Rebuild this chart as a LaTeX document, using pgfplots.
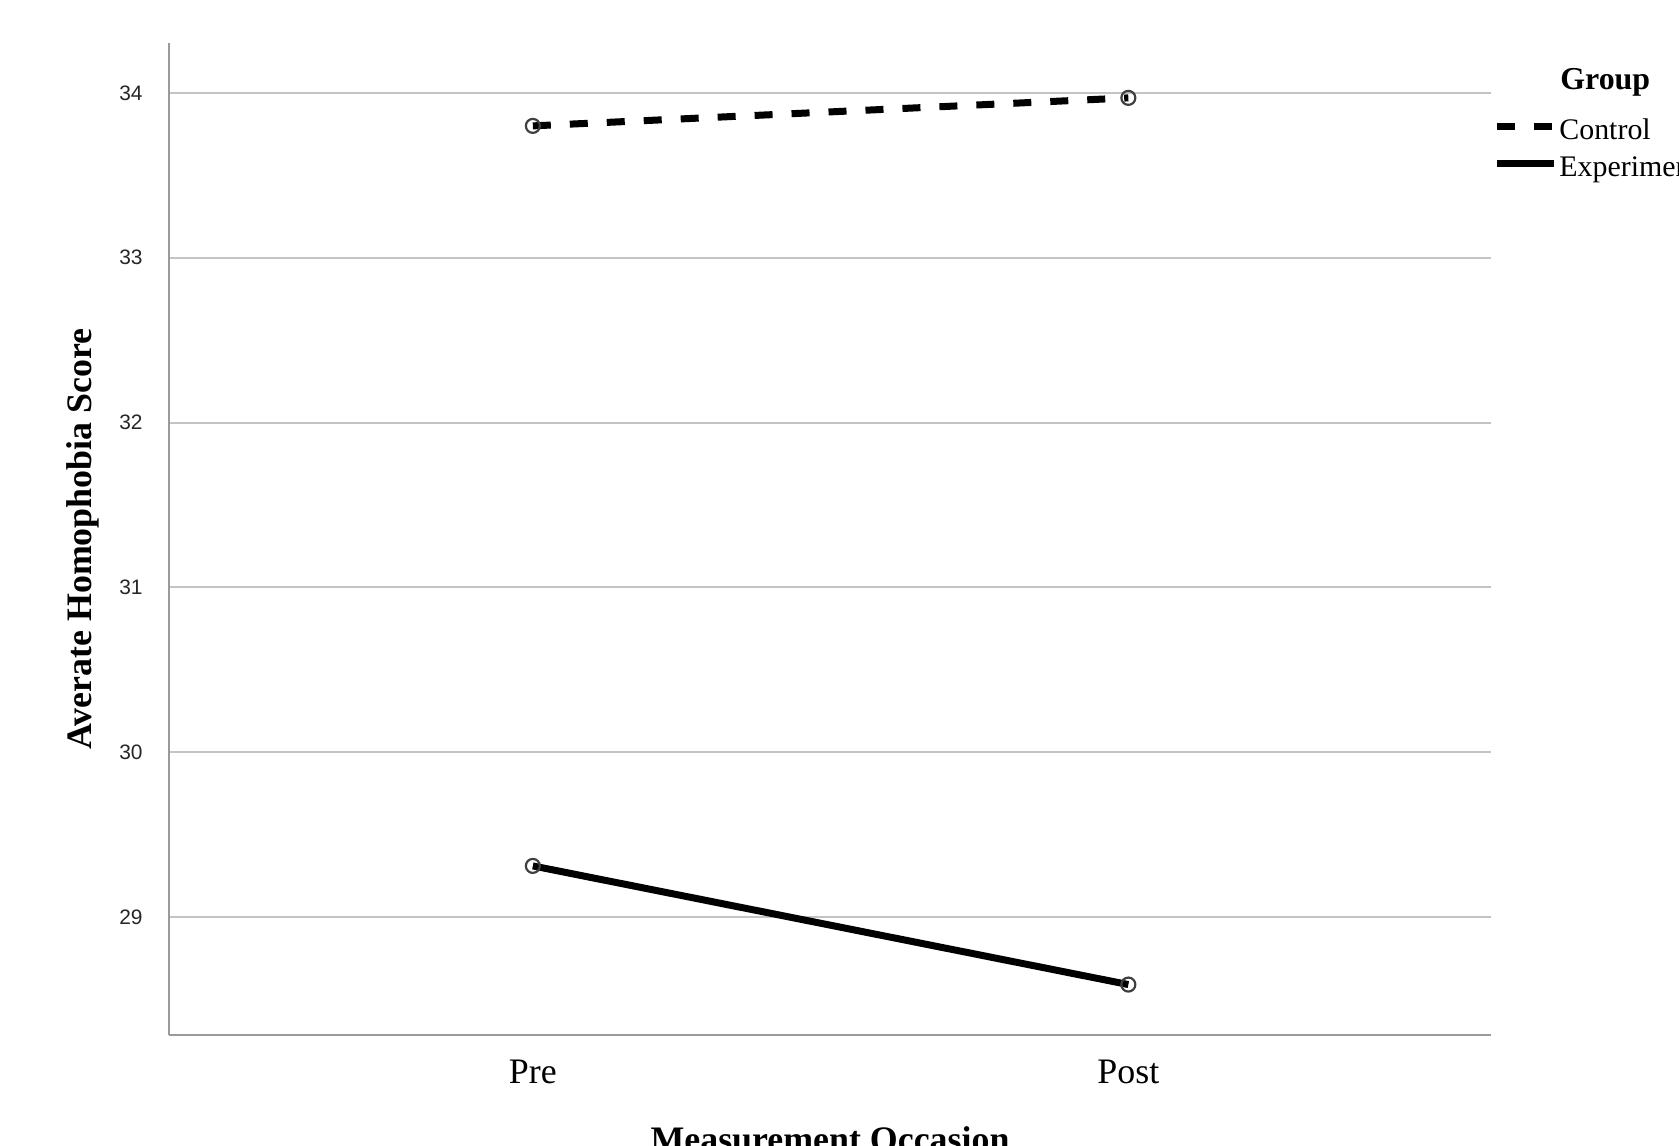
\documentclass[border=0pt]{standalone}
\usepackage{fontspec}
\setmainfont{Liberation Serif}
\newfontfamily\tickfont{Liberation Sans}
\usepackage{pgfplots}
\pgfplotsset{compat=1.18}
\definecolor{gridgray}{HTML}{C4C4C4}
\definecolor{axisgray}{HTML}{9A9A9A}
\begin{document}
\begin{tikzpicture}
\path[use as bounding box] (-84.5bp,-55.5bp) rectangle (755bp,517.5bp);
\begin{axis}[
  at={(0,0)}, anchor=south west,
  scale only axis, width=661bp, height=496bp,
  xmin=-0.611, xmax=1.609, ymin=28.284, ymax=34.303,
  axis x line*=bottom, axis y line*=left,
  axis line style={draw=axisgray, line width=1.2bp, -},
  xtick={0,1}, xticklabels={Pre,Post},
  ytick={29,30,31,32,33,34},
  major tick length=0pt,
  ymajorgrids, grid style={draw=gridgray, line width=1bp},
  /pgf/number format/assume math mode=true,
  yticklabel style={font=\tickfont\fontsize{10.5}{12}\selectfont, text=black!85, anchor=east, inner sep=0pt, xshift=-13bp},
  xticklabel style={font=\fontsize{18}{20}\selectfont, anchor=base, inner sep=0pt, yshift=-24bp},
  xlabel={Measurement Occasion},
  ylabel={Averate Homophobia Score},
  xlabel style={font=\fontsize{18}{20}\selectfont\bfseries, at={(axis description cs:0.5,0)}, anchor=base, inner sep=0pt, yshift=-58bp},
  ylabel style={font=\fontsize{18}{20}\selectfont\bfseries, at={(axis description cs:0,0.5)}, anchor=center, inner sep=0pt, yshift=43bp},
  clip=false,
  legend style={draw=none, fill=none, inner sep=0pt, at={(axis description cs:1,1)}, anchor=north west, xshift=1bp, yshift=-37bp, font=\fontsize{15}{17}\selectfont, row sep=3.8bp, column sep=1bp, nodes={inner sep=0pt, text height=11bp, text depth=4bp}},
  legend cell align=left,
  legend image code/.code={\draw[#1] (0bp,3bp) -- (28.5bp,3bp);},
]
% markers first (drawn under lines)
\addplot[only marks, mark=o, mark size=3.5bp, mark options={draw=black!75, line width=1.1bp, fill=white}, forget plot] coordinates {(0,33.80) (1,33.97)};
\addplot[only marks, mark=o, mark size=3.5bp, mark options={draw=black!75, line width=1.1bp, fill=white}, forget plot] coordinates {(0,29.31) (1,28.59)};
% Control
\addplot[black, line width=3.5bp, dash pattern=on 9bp off 9.5bp, no marks] coordinates {(0,33.80) (1,33.97)};
\addlegendentry{Control}
% Experimental
\addplot[black, line width=3.5bp, no marks] coordinates {(0,29.31) (1,28.59)};
\addlegendentry{Experimental}
\node[anchor=base west, inner sep=0pt, font=\fontsize{16}{18}\selectfont\bfseries] at (axis description cs:1,1) [xshift=34.5bp, yshift=-23.5bp] {Group};
\end{axis}
\end{tikzpicture}
\end{document}
